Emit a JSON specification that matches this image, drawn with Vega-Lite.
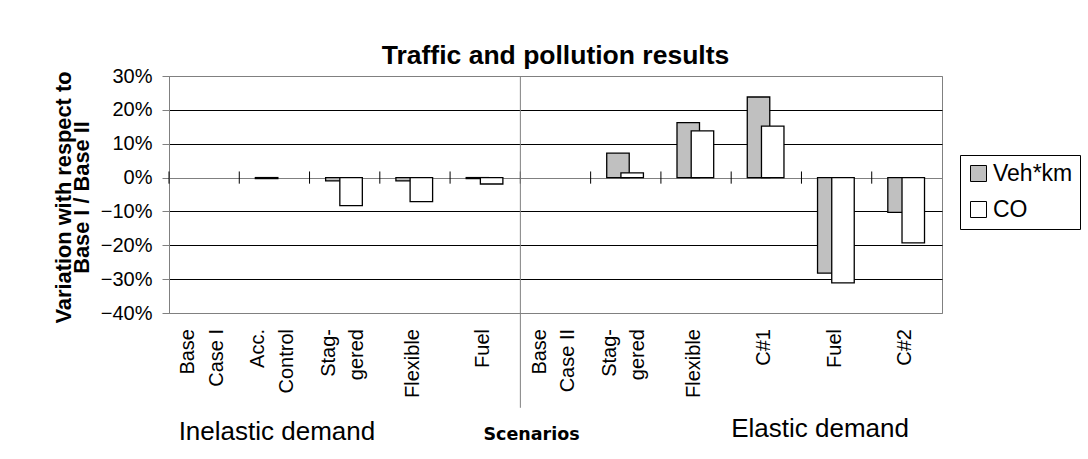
{
  "$schema": "https://vega.github.io/schema/vega-lite/v6.json",
  "width": 773,
  "height": 237,
  "autosize": {"type": "none"},
  "padding": {"left": 169, "top": 76, "right": 146, "bottom": 146},
  "background": "white",
  "title": {"text": "Traffic and pollution results", "font": "Liberation Sans", "fontSize": 26.5, "fontWeight": "bold", "color": "black", "anchor": "middle", "frame": "group", "baseline": "alphabetic", "offset": 13, "dy": 37},
  "config": {"view": {"stroke": "#808080", "strokeWidth": 1}, "font": "Liberation Sans"},
  "data": {"values": [
    {"group": "Inelastic demand", "key": "I:Base|Case I", "series": "Veh*km", "value": 0},
    {"group": "Inelastic demand", "key": "I:Base|Case I", "series": "CO", "value": 0},
    {"group": "Inelastic demand", "key": "I:Acc.|Control", "series": "Veh*km", "value": -0.003},
    {"group": "Inelastic demand", "key": "I:Acc.|Control", "series": "CO", "value": 0},
    {"group": "Inelastic demand", "key": "I:Stag-|gered", "series": "Veh*km", "value": -0.01},
    {"group": "Inelastic demand", "key": "I:Stag-|gered", "series": "CO", "value": -0.083},
    {"group": "Inelastic demand", "key": "I:Flexible", "series": "Veh*km", "value": -0.01},
    {"group": "Inelastic demand", "key": "I:Flexible", "series": "CO", "value": -0.071},
    {"group": "Inelastic demand", "key": "I:Fuel", "series": "Veh*km", "value": -0.003},
    {"group": "Inelastic demand", "key": "I:Fuel", "series": "CO", "value": -0.019},
    {"group": "Elastic demand", "key": "E:Base|Case II", "series": "Veh*km", "value": 0},
    {"group": "Elastic demand", "key": "E:Base|Case II", "series": "CO", "value": 0},
    {"group": "Elastic demand", "key": "E:Stag-|gered", "series": "Veh*km", "value": 0.072},
    {"group": "Elastic demand", "key": "E:Stag-|gered", "series": "CO", "value": 0.014},
    {"group": "Elastic demand", "key": "E:Flexible", "series": "Veh*km", "value": 0.162},
    {"group": "Elastic demand", "key": "E:Flexible", "series": "CO", "value": 0.138},
    {"group": "Elastic demand", "key": "E:C#1", "series": "Veh*km", "value": 0.238},
    {"group": "Elastic demand", "key": "E:C#1", "series": "CO", "value": 0.152},
    {"group": "Elastic demand", "key": "E:Fuel", "series": "Veh*km", "value": -0.282},
    {"group": "Elastic demand", "key": "E:Fuel", "series": "CO", "value": -0.311},
    {"group": "Elastic demand", "key": "E:C#2", "series": "Veh*km", "value": -0.103},
    {"group": "Elastic demand", "key": "E:C#2", "series": "CO", "value": -0.193}
  ]},
  "encoding": {
    "x": {
      "field": "key", "type": "nominal", "sort": null,
      "scale": {"paddingInner": 0, "paddingOuter": 0},
      "axis": {
        "title": "Scenarios", "titleFont": "DejaVu Sans", "titleFontSize": 17.5, "titleFontWeight": "bold", "titleColor": "black",
        "titleX": 362, "titleY": 126, "titleBaseline": "alphabetic", "titleAlign": "center",
        "labelExpr": "split(slice(datum.label, 2), '|')",
        "labelAngle": -90, "labelAlign": "right", "labelBaseline": "middle",
        "labelOffset": {"condition": {"test": "indexof(datum.value, '|') >= 0", "value": -16}, "value": -2},
        "labelFont": "Liberation Sans", "labelFontSize": 20, "labelColor": "black", "labelLineHeight": 28.5,
        "labelPadding": 15.5, "ticks": false, "domain": false, "grid": false
      }
    },
    "y": {
      "field": "value", "type": "quantitative",
      "scale": {"domain": [-0.4, 0.3], "nice": false, "zero": false},
      "axis": {
        "title": ["Variation with respect to", "Base I / Base II"],
        "titleFont": "Liberation Sans", "titleFontSize": 21.8, "titleFontWeight": "bold", "titleColor": "black",
        "titleLineHeight": 18, "titleBaseline": "middle", "titleAlign": "center", "titleAngle": -90,
        "titleX": -106, "titleY": 121,
        "values": [-0.4, -0.3, -0.2, -0.1, 0, 0.1, 0.2, 0.3],
        "format": ".0%",
        "labelFont": "Liberation Sans", "labelFontSize": 20, "labelColor": "black", "labelPadding": 10,
        "tickSize": 7, "tickColor": "#808080", "domainColor": "#808080",
        "grid": true,
        "gridColor": {"condition": {"test": "datum.value === 0 || datum.value === 0.3 || datum.value === -0.4", "value": "#808080"}, "value": "black"},
        "gridOpacity": 1
      }
    }
  },
  "layer": [
    {
      "transform": [{"filter": "datum.series === 'Veh*km'"}],
      "mark": {"type": "rule", "color": "black", "strokeWidth": 1},
      "encoding": {
        "x": {"field": "key", "type": "nominal", "sort": null, "bandPosition": 0},
        "y": {"datum": 0.018},
        "y2": {"datum": -0.018}
      }
    },
    {
      "transform": [{"filter": "datum.series === 'Veh*km' && datum.key === 'E:Base|Case II'"}],
      "mark": {"type": "rule", "color": "#808080", "strokeWidth": 1},
      "encoding": {
        "x": {"field": "key", "type": "nominal", "sort": null, "bandPosition": 0},
        "y": {"datum": 0.3},
        "y2": {"datum": -0.68}
      }
    },
    {
      "transform": [{"filter": "datum.series === 'Veh*km' && datum.value !== 0"}],
      "mark": {"type": "bar", "size": 22.5, "xOffset": -7.8, "stroke": "black", "strokeWidth": 1.3},
      "encoding": {
        "color": {
          "field": "series", "type": "nominal",
          "scale": {"domain": ["Veh*km", "CO"], "range": ["#c0c0c0", "#ffffff"]},
          "legend": {
            "title": null, "orient": "none", "legendX": 791, "legendY": 79,
            "strokeColor": "black", "fillColor": "white", "padding": 7,
            "symbolType": "square", "symbolSize": 256, "symbolStrokeColor": "black", "symbolStrokeWidth": 1,
            "labelFont": "Liberation Sans", "labelFontSize": 23, "labelColor": "black", "labelOffset": 3,
            "rowPadding": 12
          }
        }
      }
    },
    {
      "transform": [{"filter": "datum.series === 'CO' && datum.value !== 0"}],
      "mark": {"type": "bar", "size": 22.5, "xOffset": 6.4, "stroke": "black", "strokeWidth": 1.3},
      "encoding": {
        "color": {"field": "series", "type": "nominal"}
      }
    },
    {
      "transform": [{"filter": "datum.series === 'Veh*km' && datum.key === 'I:Acc.|Control'"}],
      "mark": {"type": "text", "font": "Liberation Sans", "fontSize": 26, "color": "black", "baseline": "alphabetic", "align": "center", "dx": 2.5, "dy": 126.5},
      "encoding": {
        "y": {"datum": -0.4},
        "text": {"field": "group"}
      }
    },
    {
      "transform": [{"filter": "datum.series === 'Veh*km' && datum.key === 'E:Fuel'"}],
      "mark": {"type": "text", "font": "Liberation Sans", "fontSize": 26, "color": "black", "baseline": "alphabetic", "align": "center", "dx": -16.5, "dy": 124},
      "encoding": {
        "y": {"datum": -0.4},
        "text": {"field": "group"}
      }
    }
  ]
}
